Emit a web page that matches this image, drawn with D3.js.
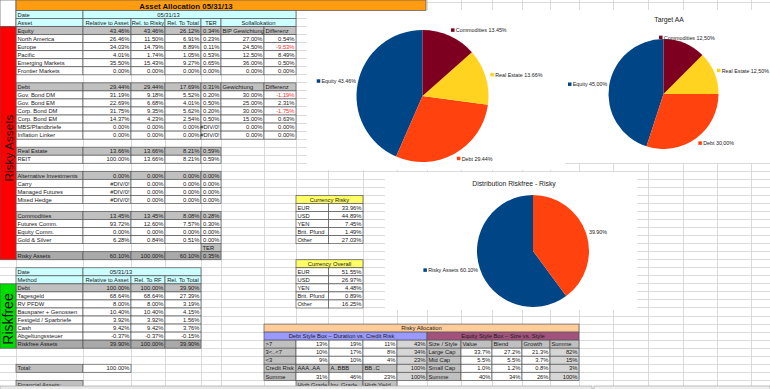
<!DOCTYPE html>
<html><head><meta charset="utf-8">
<script src="https://cdn.jsdelivr.net/npm/d3@7"></script>
<style>body{margin:0;background:#fff;overflow:hidden}svg{display:block}text{font-family:"Liberation Sans",Arial,sans-serif}</style>
</head><body><svg id="c" width="770" height="389"></svg>
<script>
// ---------- DATA ----------
const titleText = "Asset Allocation 05/31/13";
const reportDate = "05/31/13";
const riskyHeader = ["Asset","Relative to Asset","Rel. to Risky","Rel. To Total","TER","Sollallokation"];
const equityTotal = ["Equity","43.46%","43.46%","26.12%","0.34%","BIP Gewichtung","Differenz"];
const equityRows = [
  ["North America","26.46%","11.50%","6.91%","0.23%","27.00%","0.54%"],
  ["Europe","34.03%","14.79%","8.89%","0.11%","24.50%","-9.53%"],
  ["Pacific","4.01%","1.74%","1.05%","0.53%","12.50%","8.49%"],
  ["Emerging Markets","35.50%","15.43%","9.27%","0.65%","36.00%","0.50%"],
  ["Frontier Markets","0.00%","0.00%","0.00%","0.00%","0.00%","0.00%"]
];
const debtTotal = ["Debt","29.44%","29.44%","17.69%","0.31%","Gewichtung","Differenz"];
const debtRows = [
  ["Gov. Bond DM","31.19%","9.18%","5.52%","0.20%","30.00%","-1.19%"],
  ["Gov. Bond EM","22.69%","6.68%","4.01%","0.50%","25.00%","2.31%"],
  ["Corp. Bond DM","31.75%","9.35%","5.62%","0.20%","30.00%","-1.75%"],
  ["Corp. Bond EM","14.37%","4.23%","2.54%","0.50%","15.00%","0.63%"],
  ["MBS/Pfandbriefe","0.00%","0.00%","0.00%","#DIV/0!","0.00%","0.00%"],
  ["Inflation Linker","0.00%","0.00%","0.00%","#DIV/0!","0.00%","0.00%"]
];
const realEstateTotal = ["Real Estate","13.66%","13.66%","8.21%","0.59%"];
const realEstateRows = [["REIT","100.00%","13.66%","8.21%","0.59%"]];
const altTotal = ["Alternative Investments","0.00%","0.00%","0.00%","0.00%"];
const altRows = [
  ["Carry","#DIV/0!","0.00%","0.00%","0.00%"],
  ["Managed Futures","#DIV/0!","0.00%","0.00%","0.00%"],
  ["Mixed Hedge","#DIV/0!","0.00%","0.00%","0.00%"]
];
const commTotal = ["Commodities","13.45%","13.45%","8.08%","0.28%"];
const commRows = [
  ["Futures Comm.","93.72%","12.60%","7.57%","0.30%"],
  ["Equity Comm.","0.00%","0.00%","0.00%","0.00%"],
  ["Gold & Silver","6.28%","0.84%","0.51%","0.00%"]
];
const riskyTotal = ["Risky Assets","60.10%","100.00%","60.10%","0.35%"];

const rfHeader = ["Method","Relative to Asset","Rel. To RF","Rel. To Total"];
const rfTotal = ["Debt","100.00%","100.00%","39.90%"];
const rfRows = [
  ["Tagesgeld","68.64%","68.64%","27.39%"],
  ["RV PFDW","8.00%","8.00%","3.19%"],
  ["Bausparer + Genossen","10.40%","10.40%","4.15%"],
  ["Festgeld / Sparbriefe","3.92%","3.92%","1.56%"],
  ["Cash","9.42%","9.42%","3.76%"],
  ["Abgeltungssteuer","-0.37%","-0.37%","-0.15%"]
];
const rfSum = ["Riskfree Assets","39.90%","100.00%","39.90%"];
const totalRow = ["Total:","100.00%"];

const currencyNames = ["EUR","USD","YEN","Brit. Pfund","Other"];
const currencyRisky = ["33.96%","44.89%","7.45%","1.49%","27.03%"];
const currencyOverall = ["51.55%","26.97%","4.48%","0.89%","16.25%"];

const durationRows = [">7","3<..<7","<3"];
const creditCols = ["AAA..AA","A..BBB","BB..C"];
const creditGrades = ["High Grade","Inv. Grade","High Yield"];
const debtBox = [["13%","19%","11%"],["10%","17%","8%"],["9%","10%","4%"]];
const debtBoxRowSum = ["43%","34%","23%"];
const debtBoxColSum = ["31%","46%","23%"];

const styleCols = ["Value","Blend","Growth"];
const sizeRows = ["Large Cap","Mid Cap","Small Cap"];
const equityBox = [["33.7%","27.2%","21.3%"],["5.5%","5.5%","3.7%"],["1.0%","1.2%","0.8%"]];
const equityBoxRowSum = ["82%","15%","3%"];
const equityBoxColSum = ["40%","34%","26%"];

const assetClasses = ["Equity","Debt","Real Estate","Alternative Investments","Commodities"];
const actualAA = [43.46, 29.44, 13.66, 0, 13.45];
const targetAA = [45.00, 30.00, 12.50, 0, 12.50];
const distNames = ["Risky Assets",""];
const distValues = [60.10, 39.90];
const pieColors = ["#004586","#ff420e","#ffd320","#579d1c","#7e0021"];

// ---------- LAYOUT ----------
const svg = d3.select("#c");
const RH = 8.04;
const y = d3.scaleLinear().domain([0,1]).range([10.5,10.5+RH]);
const CYAN="#ccffff", GRAY="#c0c0c0", DARK="#a9a9a9", LGRAY="#d6d6d6";
const BORDER="#555";

svg.append("rect").attr("width",770).attr("height",389).attr("fill","#fff");

// spreadsheet grid
const gridCols=[16,83,131,165,201,221,264,296,328.5,363,397,427,461,492,522,550,579,613,648,683,717,751];
const grid=svg.append("g").attr("stroke","#d2d2d2").attr("stroke-width",0.8).attr("shape-rendering","crispEdges");
d3.range(-1,48).forEach(i=>grid.append("line").attr("x1",0).attr("x2",770).attr("y1",y(i)).attr("y2",y(i)));
gridCols.forEach(x=>grid.append("line").attr("x1",x).attr("x2",x).attr("y1",0).attr("y2",389));

// chart backgrounds
[[307,10,258,160],[565,10,205,153],[385,172,252,138]].forEach(b=>
  svg.append("rect").attr("x",b[0]).attr("y",b[1]).attr("width",b[2]).attr("height",b[3]).attr("fill","#fff"));

function cell(x0,x1,i,txt,o={}){
  const y0=y(i);
  if(o.fill!=="none") svg.append("rect").attr("x",x0).attr("y",y0).attr("width",x1-x0).attr("height",RH)
    .attr("fill",o.fill||"#fff").attr("stroke",BORDER).attr("stroke-width",0.7);
  if(txt!==undefined && txt!==""){
    const a=o.align||"start";
    const tx=a==="end"?x1-1.5:a==="middle"?(x0+x1)/2+(o.dx||0):x0+1.5;
    svg.append("text").attr("x",tx).attr("y",y0+6.2).attr("text-anchor",a)
      .attr("font-size",o.size||5.8).attr("fill",o.color||"#1a1a1a").text(txt);
  }
}

// ---------- LEFT TABLE (risky) ----------
const L=[16,83,131,165,201,221,264,296];
svg.append("rect").attr("x",0).attr("y",0).attr("width",16).attr("height",y(2)).attr("fill","#fff").attr("stroke",BORDER).attr("stroke-width",0.7);
svg.append("rect").attr("x",16).attr("y",0).attr("width",410).attr("height",y(0)).attr("fill","#ff9c12").attr("stroke",BORDER).attr("stroke-width",0.7);
svg.append("text").attr("x",186).attr("y",8.6).attr("text-anchor","middle").attr("font-size",7.8).attr("font-weight","bold").attr("fill","#111").text(titleText);

cell(16,83,0,"Date",{fill:CYAN});
cell(83,296,0,reportDate,{fill:CYAN,align:"middle",dx:-21});
cell(16,83,1,riskyHeader[0],{fill:CYAN});
for(let k=1;k<=4;k++) cell(L[k],L[k+1],1,riskyHeader[k],{fill:CYAN,align:"middle"});
cell(221,296,1,riskyHeader[5],{fill:CYAN,align:"middle"});

function riskyRow(i,row,fill,isHead){
  cell(L[0],L[1],i,row[0],{fill});
  for(let k=1;k<=4;k++) cell(L[k],L[k+1],i,row[k],{fill,align:"end"});
  if(row.length>5){
    if(isHead){
      cell(L[5],L[6],i,row[5],{fill});
      cell(L[6],L[7],i,row[6],{fill});
    } else {
      cell(L[5],L[6],i,row[5],{align:"end"});
      cell(L[6],L[7],i,row[6],{align:"end",color:row[6].startsWith("-")?"#ff2a2a":"#1a1a1a"});
    }
  }
}
function block(start,head,rows){
  riskyRow(start,head,GRAY,true);
  rows.forEach((r,j)=>riskyRow(start+1+j,r,"#fff",false));
}
block(2,equityTotal,equityRows);
block(9,debtTotal,debtRows);
block(17,realEstateTotal,realEstateRows);
block(20,altTotal,altRows);
block(25,commTotal,commRows);
cell(L[4],L[5],29,"TER",{fill:GRAY});
riskyRow(30,riskyTotal,DARK,true);

// ---------- LEFT TABLE (riskfree) ----------
cell(16,83,32,"Date",{fill:CYAN});
cell(83,201,32,reportDate,{fill:CYAN,align:"middle",dx:-21});
cell(16,83,33,rfHeader[0],{fill:CYAN});
for(let k=1;k<=3;k++) cell(L[k],L[k+1],33,rfHeader[k],{fill:CYAN,align:"middle"});
function rfRow(i,row,fill){
  cell(L[0],L[1],i,row[0],{fill});
  for(let k=1;k<=3;k++) cell(L[k],L[k+1],i,row[k],{fill,align:"end"});
}
rfRow(34,rfTotal,GRAY);
rfRows.forEach((r,j)=>rfRow(35+j,r,"#fff"));
rfRow(41,rfSum,DARK);
cell(16,83,44,totalRow[0],{fill:GRAY});
cell(83,131,44,totalRow[1],{align:"end"});
cell(16,83,46,"Financial Assets:",{fill:GRAY});

// ---------- CURRENCY TABLES ----------
function currencyTable(start,title,vals){
  cell(296,363,start,title,{fill:"#ffff66",align:"middle"});
  currencyNames.forEach((n,j)=>{
    cell(296,328.5,start+1+j,n);
    cell(328.5,363,start+1+j,vals[j],{align:"end"});
  });
}
currencyTable(23,"Currency Risky",currencyRisky);
currencyTable(31,"Currency Overall",currencyOverall);

// ---------- RISKY ALLOCATION ----------
const D=[264,296,329,363,397,427];
const E=[427,461,492,522,550,579];
cell(264,579,39,"Risky Allocation",{fill:"#ffcc99",align:"middle"});
cell(264,427,40,"Debt Style Box \u2013 Duration vs. Credit Risk",{fill:"#9999ff",align:"middle",dx:-4});
cell(427,579,40,"Equity Style Box \u2013 Size vs. Style",{fill:"#a3527d",align:"middle"});
durationRows.forEach((d,j)=>{
  cell(D[0],D[1],41+j,d,{fill:GRAY});
  debtBox[j].forEach((v,k)=>cell(D[k+1],D[k+2],41+j,v,{align:"end"}));
  cell(D[4],D[5],41+j,debtBoxRowSum[j],{fill:LGRAY,align:"end"});
});
cell(D[0],D[1],44,"Credit Risk",{fill:GRAY});
creditCols.forEach((c,k)=>cell(D[k+1],D[k+2],44,c,{fill:GRAY}));
cell(D[4],D[5],44,"100%",{fill:LGRAY,align:"end"});
cell(D[0],D[1],45,"Summe",{fill:GRAY});
debtBoxColSum.forEach((v,k)=>cell(D[k+1],D[k+2],45,v,{align:"end"}));
cell(D[4],D[5],45,"100%",{fill:LGRAY,align:"end"});
creditGrades.forEach((c,k)=>cell(D[k+1],D[k+2],46,c,{fill:GRAY}));

cell(E[0],E[1],41,"Size / Style",{fill:GRAY});
styleCols.forEach((c,k)=>cell(E[k+1],E[k+2],41,c,{fill:GRAY}));
cell(E[4],E[5],41,"Summe",{fill:GRAY});
sizeRows.forEach((s,j)=>{
  cell(E[0],E[1],42+j,s,{fill:GRAY});
  equityBox[j].forEach((v,k)=>cell(E[k+1],E[k+2],42+j,v,{align:"end"}));
  cell(E[4],E[5],42+j,equityBoxRowSum[j],{fill:LGRAY,align:"end"});
});
cell(E[0],E[1],45,"Summe",{fill:GRAY});
equityBoxColSum.forEach((v,k)=>cell(E[k+1],E[k+2],45,v,{align:"end"}));
cell(E[4],E[5],45,"100%",{fill:LGRAY,align:"end"});

// ---------- SIDE BANDS ----------
svg.append("rect").attr("x",0).attr("y",y(2)).attr("width",16).attr("height",y(31)-y(2)).attr("fill","#ff0000").attr("stroke",BORDER).attr("stroke-width",0.7);
svg.append("text").attr("transform",`translate(12.6,148) rotate(-90)`).attr("text-anchor","middle").attr("font-size",11.8).attr("fill","#111").text("Risky Assets");
svg.append("rect").attr("x",0).attr("y",y(34)).attr("width",16).attr("height",y(42)-y(34)).attr("fill","#00dd00").attr("stroke",BORDER).attr("stroke-width",0.7);
svg.append("text").attr("transform",`translate(13,319) rotate(-90)`).attr("text-anchor","middle").attr("font-size",14).attr("fill","#111").text("Riskfree");

// ---------- PIES ----------
function drawPie(cx,cy,r,values,names,colors,fmt,aligns,title,titleX,titleY,markers){
  const arcs=d3.pie().sort(null).startAngle(0).endAngle(-2*Math.PI)(values);
  const arc=d3.arc().innerRadius(0).outerRadius(r);
  const g=svg.append("g").attr("transform",`translate(${cx},${cy})`);
  g.selectAll("path").data(arcs).join("path").attr("d",arc).attr("fill",(d,i)=>colors[i]);
  arcs.forEach((d,i)=>{
    if(values[i]<=0) return;
    const a=(d.startAngle+d.endAngle)/2;
    const ax=Math.sin(a)*(r+6), ay=-Math.cos(a)*(r+6);
    const lg=g.append("g");
    const hasMarker=markers[i];
    if(hasMarker) lg.append("rect").attr("x",0).attr("y",-2).attr("width",3.5).attr("height",3.5).attr("fill",colors[i]);
    const label=(names[i]?names[i]+" ":"")+fmt(values[i]);
    const t=lg.append("text").attr("x",hasMarker?4.8:0).attr("y",2).attr("font-size",5.35).attr("fill","#222").text(label);
    const w=(hasMarker?4.8:0)+t.node().getComputedTextLength();
    let tx;
    if(aligns[i]==="end") tx=ax+4-w;
    else if(aligns[i]==="middle") tx=ax-w/2;
    else tx=ax-(hasMarker?1:3);
    tx=Math.min(tx,769-cx-w);
    lg.attr("transform",`translate(${tx},${ay})`);
  });
  if(title) svg.append("text").attr("x",titleX).attr("y",titleY).attr("text-anchor","middle").attr("font-size",6.8).attr("fill","#222").text(title);
}
const fmtDot=v=>v.toFixed(2)+"%";
const fmtComma=v=>v.toFixed(2).replace(".",",")+"%";
drawPie(422.5,96,66,actualAA,assetClasses,pieColors,fmtDot,["end","start","start","start","start"],null,0,0,[1,1,1,1,1]);
drawPie(663.5,94,55,targetAA,assetClasses,pieColors,fmtComma,["end","start","start","start","middle"],"Target AA",669,22,[1,1,1,1,1]);
drawPie(533,251,56,distValues,distNames,["#004586","#ff420e"],fmtDot,["end","start"],"Distribution Riskfree - Risky",514,185.5,[1,0]);

// ---------- BOTTOM TAB BAR ----------
svg.append("rect").attr("x",0).attr("y",386).attr("width",592).attr("height",4).attr("fill","#e8e8e8").attr("stroke","#9a9a9a").attr("stroke-width",0.6);
svg.append("rect").attr("x",594).attr("y",386).attr("width",176).attr("height",4).attr("fill","#efefef").attr("stroke","#9a9a9a").attr("stroke-width",0.6);
</script></body></html>
